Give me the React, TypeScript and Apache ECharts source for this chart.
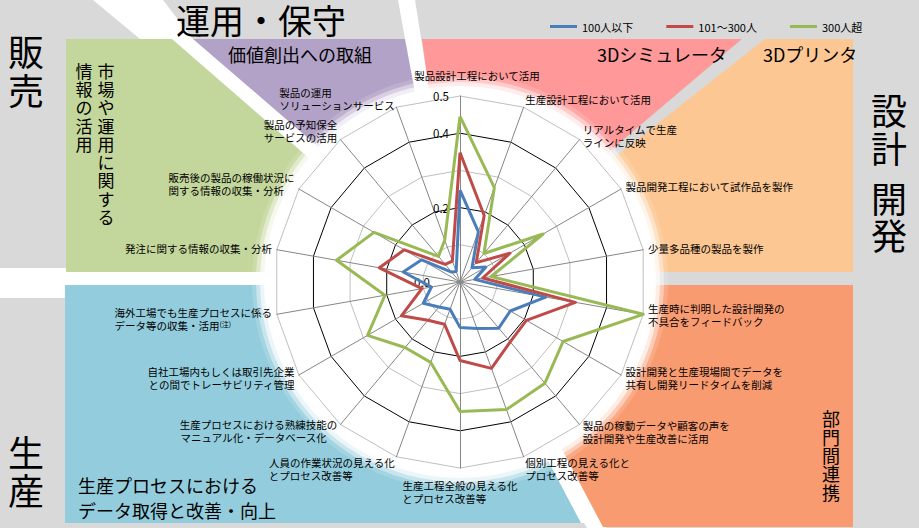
import React, { useEffect, useRef } from 'react';
import * as echarts from 'echarts';

// Indicators, clockwise from the top
const indicatorNames = [
  '製品設計工程において活用',
  '生産設計工程において活用',
  'リアルタイムで生産\nラインに反映',
  '製品開発工程において試作品を製作',
  '少量多品種の製品を製作',
  '生産時に判明した設計開発の\n不具合をフィードバック',
  '設計開発と生産現場間でデータを\n共有し開発リードタイムを削減',
  '製品の稼動データや顧客の声を\n設計開発や生産改善に活用',
  '個別工程の見える化と\nプロセス改善等',
  '生産工程全般の見える化\nとプロセス改善等',
  '人員の作業状況の見える化\nとプロセス改善等',
  '生産プロセスにおける熟練技能の\nマニュアル化・データベース化',
  '自社工場内もしくは取引先企業\nとの間でトレーサビリティ管理',
  '海外工場でも生産プロセスに係る\nデータ等の収集・活用(注)',
  '発注に関する情報の収集・分析',
  '販売後の製品の稼働状況に\n関する情報の収集・分析',
  '製品の予知保全\nサービスの活用',
  '製品の運用\nソリューションサービス',
];

const seriesNames = ['100人以下', '101～300人', '300人超'];

// values in the same clockwise order
const upTo100 = [0.247, 0.144, 0.05, 0.08, 0.04, 0.234, 0.156, 0.162, 0.133, 0.122, 0.078, 0.088, 0.114, 0.078, 0.155, 0.119, 0.035, 0.03];
const from101To300 = [0.348, 0.19, 0.068, 0.155, 0.062, 0.315, 0.206, 0.21, 0.247, 0.211, 0.121, 0.134, 0.182, 0.104, 0.22, 0.173, 0.062, 0.06];
const over300 = [0.445, 0.27, 0.1, 0.258, 0.085, 0.5, 0.32, 0.355, 0.365, 0.348, 0.23, 0.23, 0.287, 0.205, 0.337, 0.267, 0.09, 0.12];

const axisMax = 0.5;
const shownTicks = ['0.0', '0.2', '0.4', '0.5'];

// label nudges (layout only): vertical shift in px (+ = down), clockwise order
const labelNudgeY = [0, -3, 0, 0, 0, 0, 0, 4, 8, 6, 8, 3, 0, 4, 0, -3, -5, -4];

const FONT = '"Noto Sans CJK JP", "Noto Sans", sans-serif';
const BLUE = '#4a7ebb';
const RED = '#be4b48';
const GREEN = '#98b954';
const GRAY = '#d9d9d9';
const NOTE = '(注)';

export default function App() {
  const ref = useRef<HTMLDivElement>(null);
  useEffect(() => {
    document.body.style.margin = '0';
    const chart = echarts.init(ref.current!, null, { renderer: 'svg' });
    const n = indicatorNames.length;
    // ECharts places indicators counter-clockwise; reorder so the picture runs clockwise
    const order = [0, ...Array.from({ length: n - 1 }, (_, k) => n - 1 - k)];
    const reorder = (arr: any[]) => order.map((i) => arr[i]);

    const ctx = document.createElement('canvas').getContext('2d')!;
    const labelSize = 10.5;
    const supSize = 7;
    const measureLine = (ln: string) => {
      ctx.font = `${labelSize}px ${FONT}`;
      let w = ctx.measureText(ln.replace(NOTE, '')).width;
      if (ln.includes(NOTE)) {
        ctx.font = `${supSize}px ${FONT}`;
        w += ctx.measureText(NOTE).width;
      }
      return w;
    };
    const rich: Record<string, any> = {};
    const formatted: Record<string, string> = {};
    indicatorNames.forEach((name, i) => {
      const lines = name.split('\n');
      const widths = lines.map(measureLine);
      const maxW = Math.max(...widths);
      const pad = i >= 9;
      const dy = labelNudgeY[i];
      const key = `l${i}`;
      const padding = i === 0 ? [0, 0, 10, 34] : [Math.max(0, 2 * dy), 0, Math.max(0, -2 * dy), 0];
      rich[key] = { padding, fontSize: labelSize, fontFamily: FONT, color: '#000', lineHeight: 13 };
      formatted[name] = lines
        .map((ln, j) => {
          const parts = ln.split(NOTE);
          let s = `{${key}|${parts[0]}}`;
          if (parts.length > 1) {
            const sk = `sup${i}`;
            rich[sk] = { fontSize: supSize, fontFamily: FONT, color: '#000', verticalAlign: 'top', padding: [Math.max(0, dy) + 1, 0, 0, 0] };
            s += `{${sk}|${NOTE}}`;
          }
          if (pad && maxW - widths[j] > 0.5) {
            const pk = `p${i}_${j}`;
            rich[pk] = { width: maxW - widths[j], fontSize: labelSize, lineHeight: 13 };
            s += `{${pk}| }`;
          }
          return s;
        })
        .join('\n');
    });

    const poly = (points: number[][], fill: string) => ({
      type: 'polygon',
      silent: true,
      z: 0,
      shape: { points },
      style: { fill },
    });
    const txt = (text: string, x: number, y: number, fontSize: number, extra: any = {}) => ({
      type: 'text',
      silent: true,
      z: 1,
      x,
      y,
      style: {
        text,
        fontSize,
        fontFamily: FONT,
        fill: '#000',
        textVerticalAlign: 'top',
        ...extra,
      },
    });
    const disk = (r: number, opacity: number) => ({
      type: 'circle',
      silent: true,
      z: 1,
      shape: { cx: 460, cy: 282, r },
      style: { fill: '#fff', opacity },
    });

    const graphic = [
      poly([[0, 0], [93, 0], [140, 39], [140, 268], [0, 268]], GRAY),
      poly([[163, 0], [398, 0], [405, 39], [193, 39]], GRAY),
      poly([[415, 0], [919, 0], [919, 528], [607, 528], [479, 285], [460, 282]], GRAY),
      poly([[0, 298], [65, 298], [65, 523], [584, 523], [587, 528], [0, 528]], GRAY),
      poly([[66, 39], [172, 39], [440, 272], [66, 272]], '#c3d69b'),
      poly([[193, 39], [405, 39], [446, 257]], '#b3a2c7'),
      poly([[422, 39], [742, 39], [455, 282]], '#ff9999'),
      poly([[765, 39], [853, 39], [853, 272], [469, 272]], '#fcc793'),
      poly([[475, 285], [853, 285], [853, 527], [603, 527]], '#f99b70'),
      poly([[65, 285], [455, 285], [581, 523], [65, 523]], '#93cddd'),
      disk(208, 0.15),
      disk(204, 0.4),
      disk(200, 0.65),
      disk(196, 0.9),
      disk(193, 1),
      txt('運用・保守', 176, 2, 34),
      txt('販\n売', 26, 30, 36, { textAlign: 'center', lineHeight: 39 }),
      txt('設\n計', 889, 90, 36, { textAlign: 'center', lineHeight: 38 }),
      txt('開\n発', 889, 178, 36, { textAlign: 'center', lineHeight: 37 }),
      txt('生\n産', 26, 432, 36, { textAlign: 'center', lineHeight: 38 }),
      txt('部\n門\n間\n連\n携', 831, 409, 18, { textAlign: 'center', lineHeight: 18.4 }),
      txt('市\n場\nや\n運\n用\nに\n関\nす\nる', 106, 61, 17, { textAlign: 'center', lineHeight: 18.3 }),
      txt('情\n報\nの\n活\n用', 84, 61, 17, { textAlign: 'center', lineHeight: 18.3 }),
      txt('価値創出への取組', 228, 45, 18),
      txt('3Dシミュレータ', 597, 45, 18),
      txt('3Dプリンタ', 763, 45, 18),
      txt('生産プロセスにおける\nデータ取得と改善・向上', 78, 472, 18, { lineHeight: 25 }),
    ];

    chart.setOption({
      animation: false,
      backgroundColor: '#fff',
      textStyle: { fontFamily: FONT },
      graphic,
      legend: {
        data: seriesNames,
        left: 545,
        top: 16,
        z: 5,
        icon: 'rect',
        itemWidth: 27,
        itemHeight: 3,
        itemGap: 33,
        textStyle: { fontSize: 11, color: '#000', fontFamily: FONT },
      },
      radar: {
        z: 4,
        center: [460, 282],
        radius: 186,
        startAngle: 90,
        shape: 'polygon',
        splitNumber: 5,
        nameGap: 5,
        indicator: reorder(indicatorNames).map((name: string, k: number) => ({
          name,
          min: 0,
          max: axisMax,
          ...(k === 0 ? { axisLabel: { show: true } } : {}),
        })),
        axisName: {
          color: '#000',
          fontSize: labelSize,
          lineHeight: 13,
          fontFamily: FONT,
          formatter: (name: string) => formatted[name] ?? name,
          rich,
        },
        axisLine: { lineStyle: { color: '#868686', width: 1 } },
        splitLine: { lineStyle: { color: ['#000', '#bfbfbf'], width: 1 } },
        splitArea: { show: false },
        axisTick: { show: false },
        axisLabel: {
          show: false,
          fontSize: 11.5,
          color: '#000',
          fontFamily: FONT,
          margin: 11,
          formatter: (v: number) => {
            const s = v.toFixed(1);
            if (!shownTicks.includes(s)) return '';
            return s === '0.0' ? `{z|${s}}` : s;
          },
          rich: { z: { fontSize: 11.5, color: '#000', fontFamily: FONT, padding: [0, 19, 0, 0] } },
        },
      },
      series: [
        {
          type: 'radar',
          symbol: 'none',
          z: 6,
          data: [
            { name: seriesNames[0], value: reorder(upTo100), lineStyle: { color: BLUE, width: 3 }, itemStyle: { color: BLUE } },
            { name: seriesNames[1], value: reorder(from101To300), lineStyle: { color: RED, width: 3 }, itemStyle: { color: RED } },
            { name: seriesNames[2], value: reorder(over300), lineStyle: { color: GREEN, width: 3 }, itemStyle: { color: GREEN } },
          ],
        },
      ],
    });
    return () => chart.dispose();
  }, []);
  return <div ref={ref} style={{ width: 919, height: 528 }} />;
}
